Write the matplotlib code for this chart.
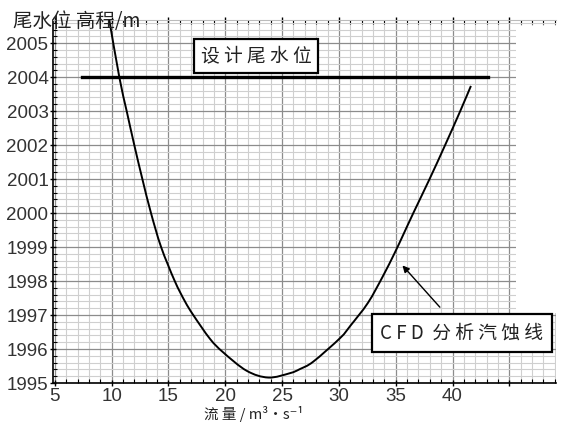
import matplotlib
matplotlib.use("Agg")
import matplotlib.pyplot as plt
import numpy as np
from matplotlib.ticker import MultipleLocator, FixedLocator
from matplotlib.patches import Rectangle, PathPatch
from matplotlib.path import Path

plt.rcParams['font.family'] = ['Noto Sans CJK SC', 'DejaVu Sans']

# CFD cavitation curve
flow = [9.79, 10.67, 11.32, 11.99, 12.70, 13.46, 14.35, 15.55, 16.45, 17.18,
        18.65, 19.82, 21.88, 23.79, 25.70, 26.57, 27.75, 30.10, 31.00, 32.56,
        33.87, 34.90, 35.62, 36.55, 37.98, 39.35, 40.68, 41.62]
level = [2005.68, 2004.00, 2003.00, 2002.00, 2001.00, 2000.00, 1999.00, 1998.00,
         1997.40, 1997.00, 1996.30, 1995.90, 1995.36, 1995.16, 1995.29, 1995.41,
         1995.63, 1996.32, 1996.68, 1997.36, 1998.14, 1998.82, 1999.33, 2000.00,
         2001.00, 2002.00, 2003.00, 2003.74]

design_level = 2004.0
design_x = [7.39, 43.13]

x_ticks = [5, 10, 15, 20, 25, 30, 35, 40]
y_ticks = [1995, 1996, 1997, 1998, 1999, 2000, 2001, 2002, 2003, 2004, 2005]

fig = plt.figure(figsize=(5.66, 4.23), dpi=100)
ax = fig.add_axes([53.3/566, 40/423, (556-53.3)/566, (383-20)/423])
ax.set_xlim(4.86, 49.11)
ax.set_ylim(1995, 2005.68)
ax.set_axisbelow(True)

ax.xaxis.set_major_locator(FixedLocator(x_ticks + [45]))
ax.xaxis.set_minor_locator(MultipleLocator(1))
ax.yaxis.set_major_locator(FixedLocator(y_ticks))
ax.yaxis.set_minor_locator(MultipleLocator(0.2))
ax.set_xticklabels([str(v) for v in x_ticks] + [''])
ax.set_yticklabels([str(v) for v in y_ticks])

for lab in ax.get_xticklabels() + ax.get_yticklabels():
    lab.set_family(['Liberation Sans', 'DejaVu Sans'])
    lab.set_fontsize(13.5)
    lab.set_color('#333333')

ax.grid(which='major', color='#8c8c8c', lw=0.9)
ax.grid(which='minor', color='#cfcfcf', lw=0.8)
ax.tick_params(which='major', direction='inout', length=4, width=1, pad=1.5,
               top=True)
ax.tick_params(which='minor', direction='in', length=3, width=0.8, top=True)
ax.spines['right'].set_visible(False)
ax.spines['top'].set_color('#bbbbbb')
ax.spines['top'].set_linewidth(0.8)
for s in ['left', 'bottom']:
    ax.spines[s].set_linewidth(1.2)

# white mask at the upper right where the grid stops in the original
ax.add_patch(Rectangle((45.62, 1997.05), 49.2 - 45.62, 2005.5 - 1997.05,
                       facecolor='white', edgecolor='none', zorder=1))

# smooth curve through the read points (Catmull-Rom as cubic Bezier segments)
pts = np.column_stack([flow, level])
verts = [tuple(pts[0])]
codes = [Path.MOVETO]
n = len(pts)
for i in range(n - 1):
    p0 = pts[max(i - 1, 0)]
    p1 = pts[i]
    p2 = pts[i + 1]
    p3 = pts[min(i + 2, n - 1)]
    c1 = p1 + (p2 - p0) / 6.0
    c2 = p2 - (p3 - p1) / 6.0
    verts += [tuple(c1), tuple(c2), tuple(p2)]
    codes += [Path.CURVE4] * 3
ax.add_patch(PathPatch(Path(verts, codes), fill=False, edgecolor='black',
                       lw=1.4, zorder=3))

ax.plot(design_x, [design_level, design_level], color='black', lw=2.4, zorder=3)

ax.text(22.72, 2004.63, '设 计 尾 水 位', fontsize=13.5, ha='center', va='center',
        color='#222222', zorder=5,
        bbox=dict(boxstyle='square,pad=0.35', fc='white', ec='black', lw=1.6))
ax.text(40.8, 1996.47, 'C F D  分 析 汽 蚀 线', fontsize=13.5, ha='center',
        va='center', color='#222222', zorder=5,
        bbox=dict(boxstyle='square,pad=0.45', fc='white', ec='black', lw=1.6))
ax.annotate('', xy=(35.43, 1998.52), xytext=(39.05, 1997.17),
            arrowprops=dict(arrowstyle='-|>', color='black', lw=1.0,
                            mutation_scale=10), zorder=4)

fig.text(13/566, 1 - 22/423, '尾水位 高程/m', fontsize=14, ha='left',
         va='center', color='#222222')
fig.text(254/566, 1 - 414/423, '流 量 / m³·s⁻¹', fontsize=10.5, ha='center',
         va='center', color='#222222')

fig.savefig('out.png', dpi=100, facecolor='white')
